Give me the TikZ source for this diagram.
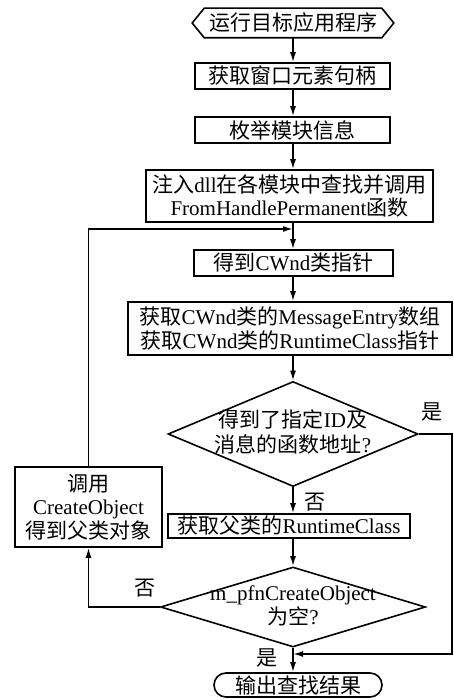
\documentclass[tikz,border=0pt]{standalone}
\usepackage{fontspec}
\setmainfont{Liberation Serif}
\newfontfamily\cjk{Noto Sans CJK SC}
\usetikzlibrary{arrows.meta,shapes.geometric,shapes.misc}
\newcommand\zh[1]{{\cjk #1}}
\newcommand\fs{\fontsize{21}{23.5}\selectfont}
\newcommand\dtext[1]{\smash{\makebox[0pt]{\raisebox{-6pt}{\begin{tabular}{@{}c@{}}#1\end{tabular}}}}}
\tikzset{
  ln/.style={line width=1.6pt},
  box/.style={draw, line width=1.6pt, inner sep=0pt, align=center, font=\fs},
  dia/.style={draw, line width=1.6pt, diamond, inner sep=0pt, font=\fs},
  arr/.style={-{Latex[length=10pt,width=6pt]}, line width=1.6pt},
  lbl/.style={inner sep=0pt, font=\fs}
}
\begin{document}
\begin{tikzpicture}[x=1pt,y=-1pt]
\useasboundingbox (0,0) rectangle (454,700);
\coordinate (ax) at (293,0);
\coordinate (rx) at (452,0);
\coordinate (j1) at (293,229);
\coordinate (j2) at (293,654);

\node[box, draw=none, minimum width=176, minimum height=28] (s) at (293,23) {\zh{运行目标应用程序}};
\draw[ln] (s.north west) -- (s.north east) -- ([xshift=12pt]s.east) -- (s.south east)
  -- (s.south west) -- ([xshift=-12pt]s.west) -- cycle;

\node[box, minimum width=195, minimum height=26] (b2) at (292.5,76) {\zh{获取窗口元素句柄}};
\node[box, minimum width=195, minimum height=26] (b3) at (292.5,130) {\zh{枚举模块信息}};
\node[box, minimum width=287, minimum height=52] (b4) at (289.5,196)
  {\zh{注入}dll\zh{在各模块中查找并调用}\\FromHandlePermanent\zh{函数}};
\node[box, minimum width=199, minimum height=26] (b5) at (293.5,263) {\zh{得到}CWnd\zh{类指针}};
\node[box, minimum width=324, minimum height=53] (b6) at (290,328.5)
  {\zh{获取}CWnd\zh{类的}MessageEntry\zh{数组}\\\zh{获取}CWnd\zh{类的}RuntimeClass\zh{指针}};
\node[dia, minimum width=250, minimum height=105] (d1) at (293,434)
  {\dtext{\zh{得到了指定}ID\zh{及}\\\zh{消息的函数地址}?}};
\node[box, minimum width=242, minimum height=24] (b7) at (289,526) {\zh{获取父类的}RuntimeClass};
\node[box, minimum width=147, minimum height=80] (lb) at (88.5,507)
  {\zh{调用}\\CreateObject\\\zh{得到父类对象}};
\node[dia, minimum width=265, minimum height=80] (d2) at (293,607)
  {\dtext{m\_pfnCreateObject\\\zh{为空}?}};
\node[box, rounded rectangle, minimum width=168, minimum height=24] (e) at (298,685) {\zh{输出查找结果}};

\node[lbl] (l1) at (432,412) {\zh{是}};
\node[lbl] (l2) at (315,502) {\zh{否}};
\node[lbl] (l3) at (145,588) {\zh{否}};
\node[lbl] (l4) at (267,658) {\zh{是}};

\draw[arr] (s.south -| ax) -- (b2.north -| ax);
\draw[arr] (b2.south -| ax) -- (b3.north -| ax);
\draw[arr] (b3.south -| ax) -- (b4.north -| ax);
\draw[arr] (b4.south -| ax) -- (b5.north -| ax);
\draw[arr] (b5.south -| ax) -- (b6.north -| ax);
\draw[arr] (b6.south -| ax) -- (d1.north);
\draw[arr] (d1.south) -- (b7.north -| ax);
\draw[arr] (b7.south -| ax) -- (d2.north);
\draw[arr] (d2.south) -- (e.north -| ax);
\draw[arr] (d1.east) -| (rx |- j2) -- (j2);
\draw[arr] (d2.west) -| (lb.south);
\draw[arr] (lb.north) |- (j1);
\end{tikzpicture}
\end{document}
